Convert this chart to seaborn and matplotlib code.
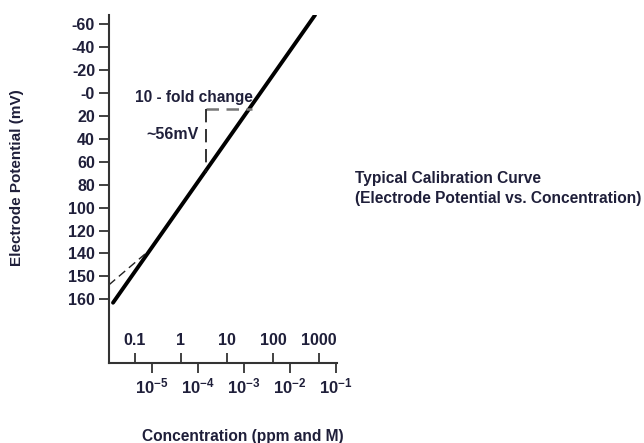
import numpy as np
import matplotlib
matplotlib.use("Agg")
import matplotlib.pyplot as plt
import seaborn as sns

# ---------------- data ----------------
# calibration line (concentration in ppm, potential in mV)
line_ppm = [0.0333, 818.0]
line_mv = [183.0, -68.0]
# low-concentration deviation (dashed)
dev_ppm = [0.027, 0.165]
dev_mv = [167.5, 140.5]
# 10-fold change triangle
tri_h_ppm = [3.49, 34.9]
tri_h_mv = [14.0, 14.0]
tri_v_ppm = [3.49, 3.49]
tri_v_mv = [14.0, 70.0]

# y ticks (positions in mV and printed labels)
y_tick_vals = [-60, -40, -20, 0, 20, 40, 60, 80, 100, 120, 140, 160, 180]
y_tick_labels = ["-60", "-40", "-20", "-0", "20", "40", "60", "80", "100",
                 "120", "140", "150", "160"]
# ppm ticks
ppm_ticks = [0.1, 1, 10, 100, 1000]
ppm_labels = ["0.1", "1", "10", "100", "1000"]
# molar ticks (sodium, MW 22.99 g/mol)
molar_vals = [1e-5, 1e-4, 1e-3, 1e-2, 1e-1]
molar_labels = [r"$10^{-5}$", r"$10^{-4}$", r"$10^{-3}$", r"$10^{-2}$", r"$10^{-1}$"]
MW = 22.99

# ---------------- style ----------------
sns.set_style("ticks")
plt.rcParams["font.family"] = ["Liberation Sans", "DejaVu Sans"]
plt.rcParams["font.weight"] = "bold"
plt.rcParams["mathtext.fontset"] = "custom"
plt.rcParams["mathtext.rm"] = "Liberation Sans:bold"
plt.rcParams["mathtext.it"] = "Liberation Sans:bold"
plt.rcParams["mathtext.bf"] = "Liberation Sans:bold"
plt.rcParams["mathtext.default"] = "rm"

TXT = "#1f1f3a"
AX = "#333333"
TICK_FS = 11.5

fig = plt.figure(figsize=(6.44, 4.43), dpi=100)
ax = fig.add_axes([109 / 644, 1 - 363 / 443, 228 / 644, 348 / 443])

sns.lineplot(x=line_ppm, y=line_mv, ax=ax, color="black", lw=2.8,
             estimator=None, sort=False)
sns.lineplot(x=dev_ppm, y=dev_mv, ax=ax, color="#222222", lw=1.0,
             estimator=None, sort=False)
ax.lines[-1].set_dashes([6, 3.5])
sns.lineplot(x=tri_h_ppm, y=tri_h_mv, ax=ax, color="#777777", lw=1.8,
             estimator=None, sort=False)
ax.lines[-1].set_dashes([5, 3])
sns.lineplot(x=tri_v_ppm, y=tri_v_mv, ax=ax, color="#111111", lw=1.2,
             estimator=None, sort=False)
ax.lines[-1].set_dashes([8, 4])

ax.set_xscale("log")
ax.set_xlim(10 ** -1.565, 10 ** 3.391)
ax.set_ylim(235.6, -68.1)

# y axis
ax.set_yticks(y_tick_vals)
ax.set_yticklabels(y_tick_labels, fontsize=TICK_FS, fontweight="bold", color=TXT)
ax.tick_params(axis="y", direction="out", length=7, width=1.3, color=AX, pad=3)

# bottom x axis: molar
ax.set_xticks([m * MW * 1000 for m in molar_vals])
ax.set_xticklabels(molar_labels, fontsize=12, color=TXT)
ax.xaxis.set_minor_locator(matplotlib.ticker.NullLocator())
ax.tick_params(axis="x", direction="out", length=7, width=1.3, color=AX, pad=3)

for s in ["top", "right"]:
    ax.spines[s].set_visible(False)
for s in ["left", "bottom"]:
    ax.spines[s].set_linewidth(1.5)
    ax.spines[s].set_color(AX)

# ppm axis, ticks up from the same baseline
secax = ax.secondary_xaxis(0.0, functions=(lambda x: x, lambda x: x))
secax.set_alignment("top")
secax.spines["top"].set_visible(False)
secax.spines["bottom"].set_visible(False)
secax.set_xticks(ppm_ticks)
secax.set_xticklabels(ppm_labels, fontsize=TICK_FS, fontweight="bold", color=TXT)
secax.xaxis.set_minor_locator(matplotlib.ticker.NullLocator())
secax.tick_params(axis="x", direction="out", length=7, width=1.3, color=AX, pad=4)

# labels
ax.set_ylabel("Electrode Potential (mV)", fontsize=11, fontweight="bold", color=TXT)
ax.yaxis.set_label_coords(-0.372, 0.534)
ax.set_xlabel("Concentration (ppm and M)", fontsize=11.2, fontweight="bold", color=TXT)
ax.xaxis.set_label_coords(0.588, -0.190)

# annotations
ax.text(0.1, 3.5, "10 - fold change", fontsize=11.2, fontweight="bold", color=TXT,
        ha="left", va="center")
ax.text(2.46, 36.6, "~56mV", fontsize=11.5, fontweight="bold", color=TXT,
        ha="right", va="center")

fig.text(355 / 644, 1 - 188.5 / 443,
         "Typical Calibration Curve\n(Electrode Potential vs. Concentration)",
         fontsize=11.2, fontweight="bold", color=TXT, ha="left", va="center",
         linespacing=1.5)

fig.savefig("out.png", dpi=100)
